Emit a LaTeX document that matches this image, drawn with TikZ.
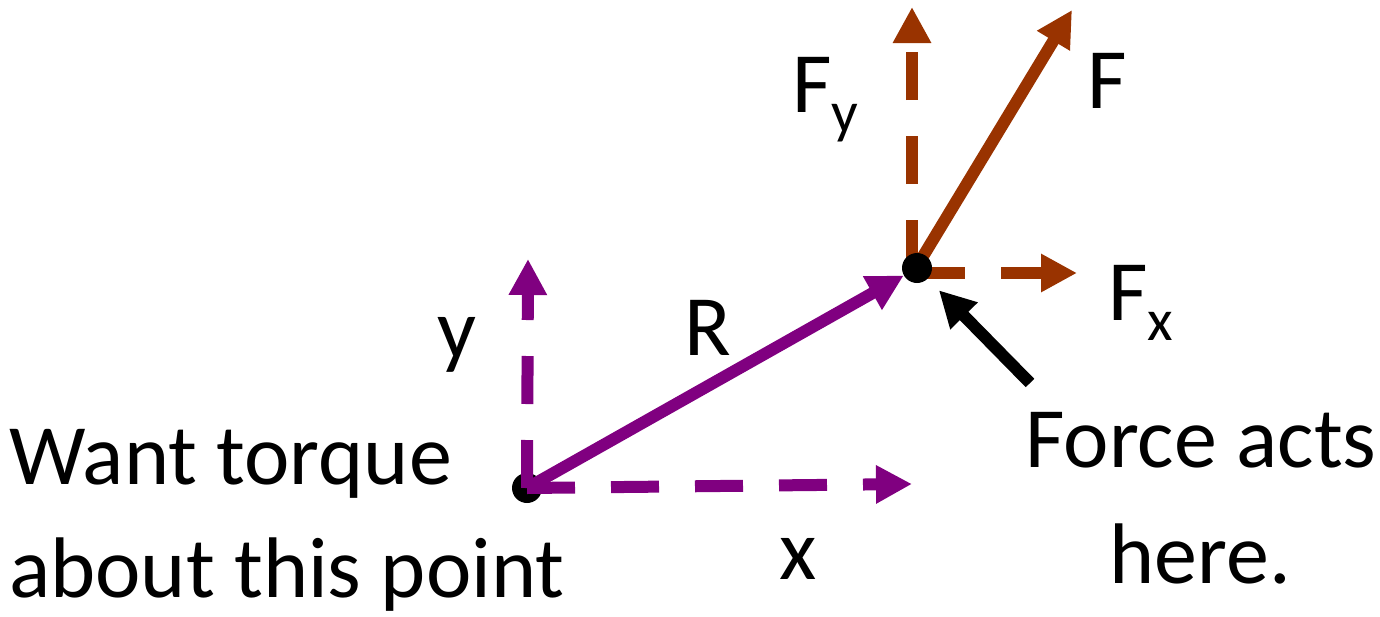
\documentclass[tikz,border=0pt]{standalone}
\usepackage{fontspec}
\setmainfont{Carlito}
\usetikzlibrary{arrows.meta}
\definecolor{vpurple}{HTML}{800080}
\definecolor{fbrown}{HTML}{993300}
\begin{document}
\begin{tikzpicture}[x=1pt,y=-1pt,
  vec/.style={line width=12pt,-{Triangle[length=36pt,width=36pt]}},
  dashvec/.style={vec,dash pattern=on 48pt off 36pt},
  dot/.style={circle,fill=black,minimum size=30pt,inner sep=0pt},
  lbl/.style={inner sep=0pt,font=\fontsize{86}{100}\selectfont}]
\useasboundingbox (0,0) rectangle (1380,616);
% origin point and purple vectors
\node[dot] (O) at (527,488) {};
\coordinate (yt) at (528,259);
\coordinate (xt) at (912,484);
\draw[dashvec,vpurple] (O.center) -- (yt);
\draw[dashvec,vpurple] (O.center) -- (xt);
% force vectors
\coordinate (p) at (917,268);
\coordinate (fyb) at (912,268);
\coordinate (fyt) at (912,7);
\coordinate (fb) at (922,258);
\coordinate (ft) at (1072,10);
\coordinate (fxb) at (917,273);
\coordinate (fxt) at (1077,273);
\draw[dashvec,fbrown] (fyb) -- (fyt);
\draw[vec,fbrown] (fb) -- (ft);
\draw[dashvec,fbrown] (fxb) -- (fxt);
\node[dot] (P) at (p) {};
\draw[vec,vpurple] (O.center) -- (P);
\coordinate (tail) at (1030,383);
\draw[vec,black,shorten >=16pt] (tail) -- (P);
% labels
\node[lbl,anchor=base] (lx) at (798,579) {x};
\node[lbl,anchor=base] (ly) at (457,358) {y};
\node[lbl,anchor=base] (lR) at (708,355) {R};
\node[lbl,anchor=base west] (lF) at (1087,108) {F};
\node[lbl,anchor=base west] (lFy) at (792,112) {F\raisebox{-20pt}{\fontsize{59}{60}\selectfont y}};
\node[lbl,anchor=base west] (lFx) at (1108,320) {F\raisebox{-20pt}{\fontsize{59}{60}\selectfont x}};
\node[lbl,anchor=base west] (w1) at (9,484) {Want torque};
\node[lbl,anchor=base west] (w2) at (9,597) {about this point};
\node[lbl,anchor=base] (f1) at (1201,467) {Force acts};
\node[lbl,anchor=base] (f2) at (1200,583) {here.};
\end{tikzpicture}
\end{document}
